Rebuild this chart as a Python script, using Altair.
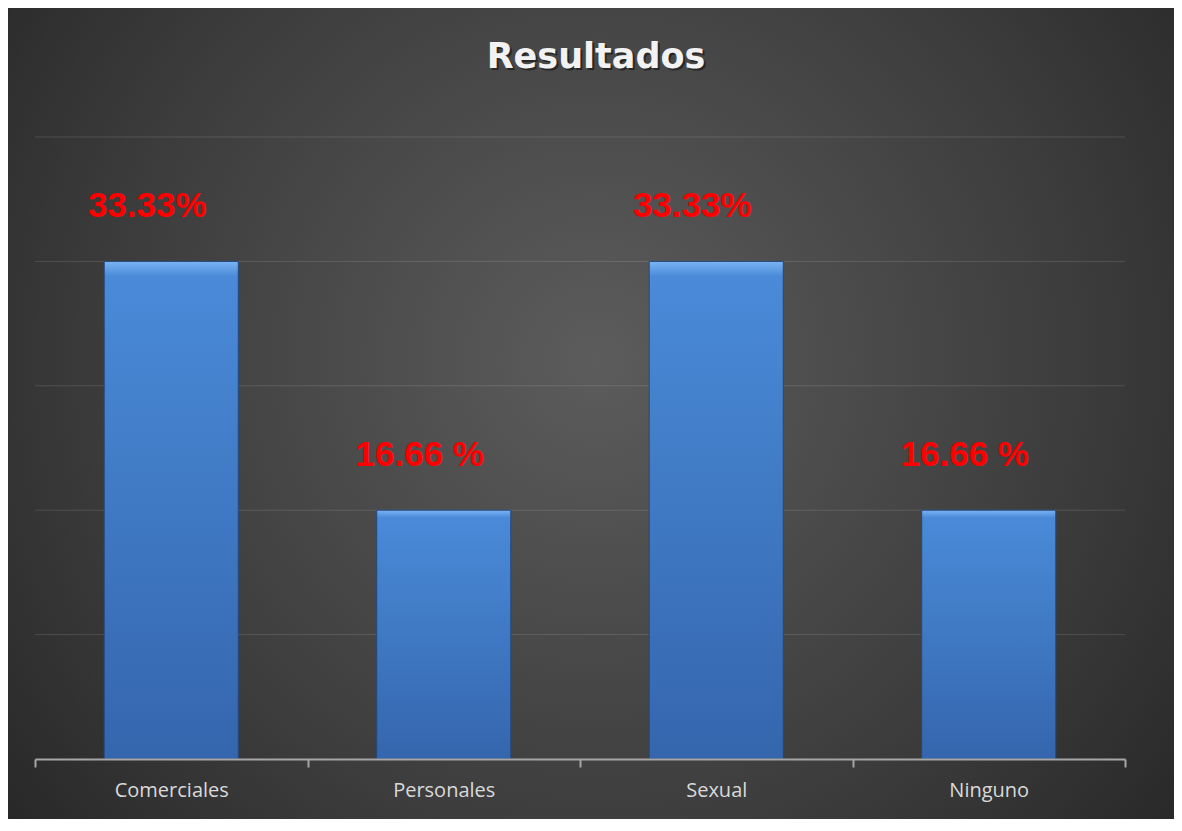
import altair as alt
import pandas as pd

categories = ["Comerciales", "Personales", "Sexual", "Ninguno"]
values = [4, 2, 4, 2]
labels = ["33.33%", "16.66 %", "33.33%", "16.66 %"]
grid_values = [1, 2, 3, 4, 5]
title_text = "Resultados"

df = pd.DataFrame({"cat": categories, "val": values, "lab": labels})
gdf = pd.DataFrame({"g": grid_values})

W, H = 1090, 622

bg = alt.Chart(alt.Data(values=[{}])).mark_rect(
    fill={
        "gradient": "radial",
        "x1": 0.5, "y1": 0.45, "r1": 0,
        "x2": 0.5, "y2": 0.45, "r2": 0.75,
        "stops": [
            {"offset": 0, "color": "#5c5c5c"},
            {"offset": 0.55, "color": "#3c3c3c"},
            {"offset": 1, "color": "#1e1e1e"},
        ],
    },
    clip=False,
).encode(
    x=alt.value(-27), x2=alt.value(W + 60),
    y=alt.value(-129), y2=alt.value(H + 70),
)

yscale = alt.Scale(domain=[0, 5])
xscale = alt.Scale(paddingInner=0, paddingOuter=0)

grid = alt.Chart(gdf).mark_rule(color="#ffffff", opacity=0.13, strokeWidth=1).encode(
    y=alt.Y("g:Q", scale=yscale, axis=None),
    x=alt.value(0), x2=alt.value(W),
)

xenc = alt.X("cat:N", sort=categories, title=None, scale=xscale,
             axis=alt.Axis(labelAngle=0, labelFont="Open Sans", labelFontSize=20,
                           labelColor="#d9d9d9", labelPadding=13,
                           domainColor="#a6a6a6", domainWidth=2,
                           tickColor="#a6a6a6", tickWidth=2, tickSize=8,
                           tickBand="extent", grid=False, zindex=1))
yenc = alt.Y("val:Q", title=None, scale=yscale, axis=None)

bars = alt.Chart(df).mark_bar(
    width=alt.RelativeBandSize(0.492),
    fill={
        "gradient": "linear", "x1": 0, "y1": 0, "x2": 0, "y2": 1,
        "stops": [
            {"offset": 0, "color": "#7ab4f4"},
            {"offset": 0.03, "color": "#4a8ad8"},
            {"offset": 1, "color": "#3466ad"},
        ],
    },
    stroke="#24487e", strokeWidth=1,
).encode(x=xenc, y=yenc)

text = alt.Chart(df).mark_text(
    font="Liberation Sans", fontWeight="bold", fontSize=35, color="#ff0000",
    baseline="alphabetic", dy=-44, dx=-24,
).encode(x=alt.X("cat:N", sort=categories, scale=xscale),
         y=alt.Y("val:Q", scale=yscale), text="lab:N")

title_shadow = alt.Chart(alt.Data(values=[{"t": title_text}])).mark_text(
    font="DejaVu Sans", fontWeight="bold", fontSize=35, color="#000000", opacity=0.45,
    baseline="middle", align="center",
).encode(x=alt.value(W / 2 + 18), y=alt.value(-78), text="t:N")

title = alt.Chart(alt.Data(values=[{"t": title_text}])).mark_text(
    font="DejaVu Sans", fontWeight="bold", fontSize=35, color="#f2f2f2",
    baseline="middle", align="center",
).encode(x=alt.value(W / 2 + 16), y=alt.value(-80), text="t:N")

chart = alt.layer(bg, grid, bars, text, title_shadow, title).properties(
    width=W, height=H,
    autosize=alt.AutoSizeParams(type="none"),
    padding={"left": 27, "top": 129, "right": 49, "bottom": 60},
    background="#2a2a2a",
).configure_view(stroke=None)

chart.save("out.html", embed_options={"renderer": "svg", "actions": False})
